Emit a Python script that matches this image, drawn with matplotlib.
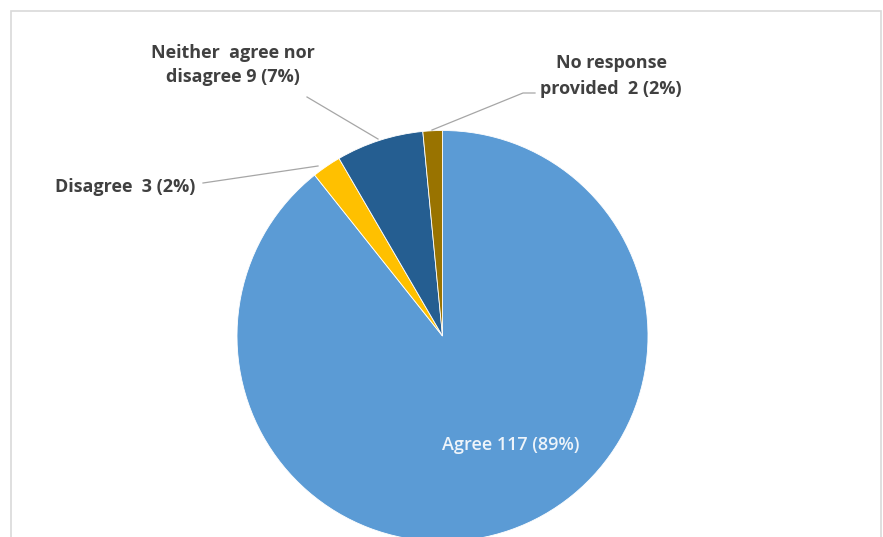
import matplotlib
matplotlib.use("Agg")
import matplotlib.pyplot as plt
from matplotlib.patches import Rectangle

categories = ["Agree", "Disagree", "Neither agree nor disagree", "No response provided"]
counts = [117, 3, 9, 2]
percents = [89, 2, 7, 2]
label_texts = ["Agree 117 (89%)", "Disagree  3 (2%)", "Neither  agree nor\ndisagree 9 (7%)", "No response\nprovided  2 (2%)"]
colors = ["#5B9BD5", "#FFC000", "#255E91", "#997300"]

W, H = 883, 537
fig = plt.figure(figsize=(W / 100, H / 100), dpi=100)
ax = fig.add_axes([0, 0, 1, 1])

def Y(y):
    return H - y

cx, cy, r = 442.5, 336, 205.5
ax.pie(counts, colors=colors, startangle=90, counterclock=False,
       center=(cx, Y(cy)), radius=r, frame=True,
       wedgeprops=dict(linewidth=0.6, edgecolor="white"))
ax.set_xlim(0, W)
ax.set_ylim(0, H)
ax.axis("off")

# frame
ax.add_patch(Rectangle((11, Y(545)), 870, 534, fill=False, edgecolor="#D9D9D9", linewidth=1.2, zorder=0))

font = dict(family=["Open Sans", "DejaVu Sans"], fontweight="bold", fontsize=13, color="#404040")

# Agree label
ax.text(511, Y(445), label_texts[0], ha="center", va="center", **{**font, "color": "#EEF4FA", "fontweight": "semibold"})

# Disagree label
ax.text(55, Y(187), label_texts[1], ha="left", va="center", **font)
ax.plot([203, 318], [Y(183), Y(166)], color="#A6A6A6", lw=0.9)

# Neither label
ax.text(233, Y(65), label_texts[2], ha="center", va="center", linespacing=1.5, **font)
ax.plot([307, 378], [Y(97), Y(139)], color="#A6A6A6", lw=0.9)

# No response label
ax.text(611, Y(76), label_texts[3], ha="center", va="center", linespacing=1.5, **font)
ax.plot([535, 523, 432], [Y(93), Y(93), Y(130)], color="#A6A6A6", lw=0.9)

fig.savefig("out.png", dpi=100)
